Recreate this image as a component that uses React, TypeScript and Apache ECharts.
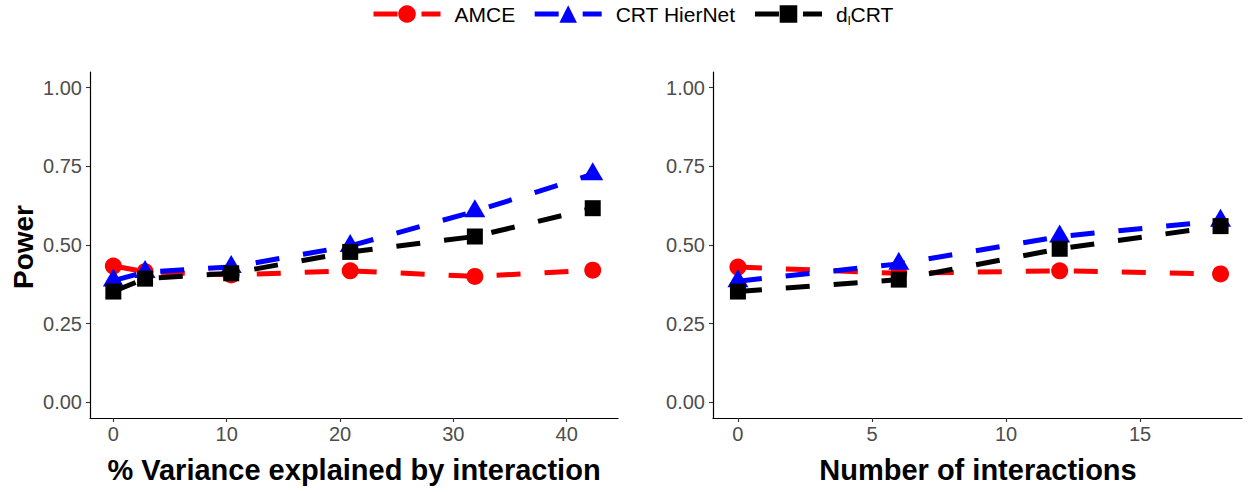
import React, { useEffect, useRef } from "react";
import * as echarts from "echarts";

const seriesNames = ["AMCE", "CRT HierNet", "dlCRT"];
const seriesColors = ["#FF0000", "#0000FF", "#000000"];
const seriesSymbols = ["circle", "triangle", "rect"];

// Left panel: % variance explained by interaction
const leftX = [0, 2.8, 10.4, 20.9, 31.9, 42.3];
const leftAMCE = [0.433, 0.415, 0.405, 0.418, 0.4, 0.42];
const leftHierNet = [0.387, 0.414, 0.43, 0.497, 0.607, 0.725];
const leftDlCRT = [0.352, 0.393, 0.41, 0.478, 0.527, 0.617];

// Right panel: number of interactions
const rightX = [0, 6, 12, 18];
const rightAMCE = [0.43, 0.41, 0.418, 0.408];
const rightHierNet = [0.385, 0.44, 0.527, 0.577];
const rightDlCRT = [0.352, 0.39, 0.488, 0.56];

const yTicks = [0, 0.25, 0.5, 0.75, 1];
const leftXTicks = [0, 10, 20, 30, 40];
const rightXTicks = [0, 5, 10, 15];

const xTitleLeft = "% Variance explained by interaction";
const xTitleRight = "Number of interactions";
const yTitle = "Power";

const FONT = "'Liberation Sans', Arial, Helvetica, sans-serif";

export default function App() {
  const ref = useRef<HTMLDivElement>(null);

  useEffect(() => {
    if (!ref.current) return;
    const chart = echarts.init(ref.current, undefined, { renderer: "svg" });

    const symbolSizes: any[] = [17, [21, 18], 16];
    const symbolOffsets: any[] = [[0, 0], [0, -3], [0, 0]];

    const makeSeries = (idx: number, xs: number[], ys: number[], axis: number) => ({
      type: "line",
      name: seriesNames[idx],
      xAxisIndex: axis,
      yAxisIndex: axis,
      data: xs.map((x, i) => [x, ys[i]]),
      symbol: seriesSymbols[idx],
      symbolSize: symbolSizes[idx],
      symbolOffset: symbolOffsets[idx],
      showSymbol: true,
      showAllSymbol: true,
      color: seriesColors[idx],
      itemStyle: { color: seriesColors[idx], borderWidth: 0 },
      lineStyle: { color: seriesColors[idx], width: 5, type: [24, 24], cap: "butt" },
      emphasis: { disabled: true },
      z: 2 + idx,
    });

    const yAxisCommon = (gridIndex: number) => ({
      type: "value",
      gridIndex,
      min: -0.05,
      max: 1.05,
      axisLine: { show: true, onZero: false, lineStyle: { color: "#000", width: 1.2 } },
      axisTick: { show: true, length: 4, lineStyle: { color: "#333", width: 1.1 }, customValues: yTicks },
      axisLabel: {
        customValues: yTicks,
        formatter: (v: number) => v.toFixed(2),
        color: "#4D4D4D",
        fontSize: 20,
        fontFamily: FONT,
        margin: 8,
      },
      splitLine: { show: false },
    });

    const xAxisCommon = (gridIndex: number, min: number, max: number, ticks: number[]) => ({
      type: "value",
      gridIndex,
      min,
      max,
      axisLine: { show: true, onZero: false, lineStyle: { color: "#000", width: 1.2 } },
      axisTick: { show: true, length: 4, lineStyle: { color: "#333", width: 1.1 }, customValues: ticks },
      axisLabel: {
        customValues: ticks,
        color: "#4D4D4D",
        fontSize: 20,
        fontFamily: FONT,
        margin: 6,
      },
      splitLine: { show: false },
    });

    const option: any = {
      animation: false,
      backgroundColor: "#FFFFFF",
      textStyle: { fontFamily: FONT },
      legend: {
        data: seriesNames,
        left: 366,
        top: -3,
        itemWidth: 67,
        itemHeight: 22,
        itemGap: 17,
        lineStyle: { width: 5 },
        formatter: (name: string) => (name === "dlCRT" ? "{n|d}{s|l}{n|CRT}" : "{n|" + name + "}"),
        textStyle: {
          fontFamily: FONT,
          fontSize: 21,
          color: "#000",
          padding: [0, 0, 0, 9],
          rich: {
            n: { fontSize: 21, fontFamily: FONT, color: "#000", lineHeight: 26 },
            s: { fontSize: 13, fontFamily: FONT, color: "#000", lineHeight: 26, verticalAlign: "bottom", padding: [12, 0, 0, 0] },
          },
        },
      },
      grid: [
        { left: 90, top: 72, width: 528, height: 346, containLabel: false },
        { left: 713, top: 72, width: 529, height: 346, containLabel: false },
      ],
      xAxis: [
        xAxisCommon(0, -2.06, 44.53, leftXTicks),
        xAxisCommon(1, -0.93, 18.8, rightXTicks),
      ],
      yAxis: [yAxisCommon(0), yAxisCommon(1)],
      series: [
        makeSeries(0, leftX, leftAMCE, 0),
        makeSeries(1, leftX, leftHierNet, 0),
        makeSeries(2, leftX, leftDlCRT, 0),
        makeSeries(0, rightX, rightAMCE, 1),
        makeSeries(1, rightX, rightHierNet, 1),
        makeSeries(2, rightX, rightDlCRT, 1),
      ],
      graphic: [
        {
          type: "text",
          x: 354,
          y: 470,
          style: {
            text: xTitleLeft,
            fontFamily: FONT,
            fontSize: 29,
            fontWeight: "bold",
            fill: "#000",
            align: "center",
            verticalAlign: "middle",
          },
        },
        {
          type: "text",
          x: 978,
          y: 470,
          style: {
            text: xTitleRight,
            fontFamily: FONT,
            fontSize: 29,
            fontWeight: "bold",
            fill: "#000",
            align: "center",
            verticalAlign: "middle",
          },
        },
        {
          type: "text",
          x: 23,
          y: 247,
          rotation: Math.PI / 2,
          style: {
            text: yTitle,
            fontFamily: FONT,
            fontSize: 28,
            fontWeight: "bold",
            fill: "#000",
            align: "center",
            verticalAlign: "middle",
          },
        },
      ],
    };

    chart.setOption(option);
    return () => chart.dispose();
  }, []);

  return <div ref={ref} style={{ width: 1248, height: 492, position: "absolute", left: 0, top: 0 }} />;
}
